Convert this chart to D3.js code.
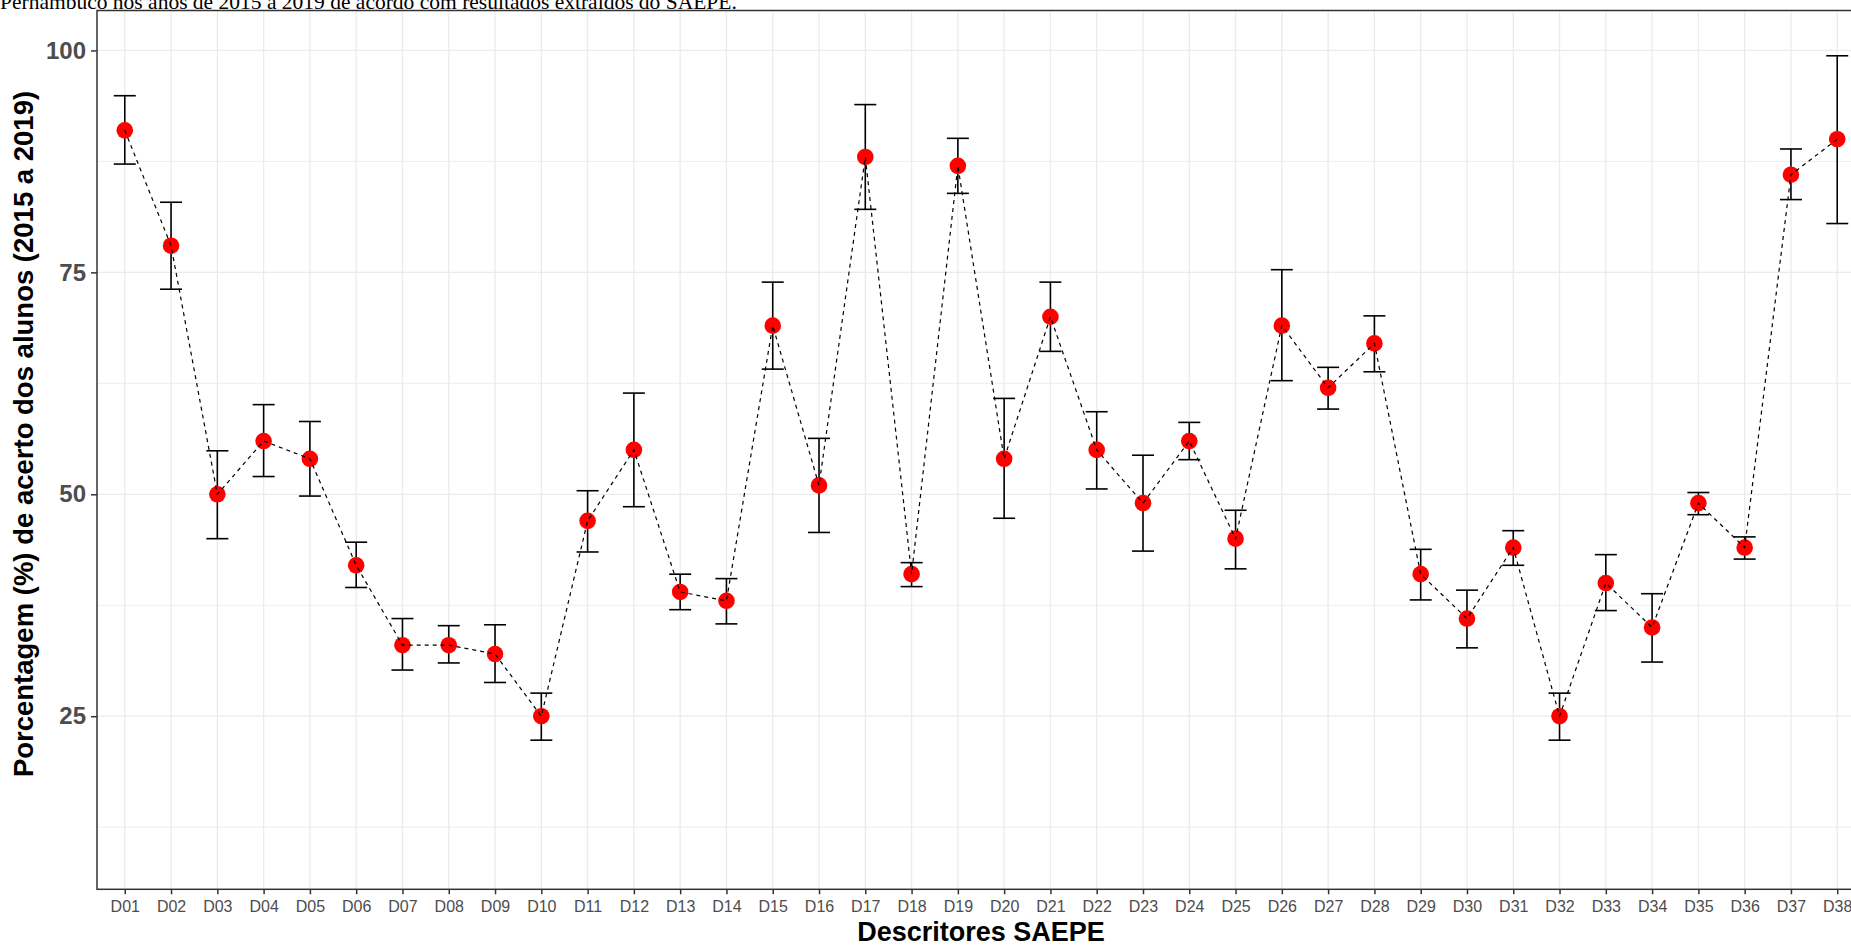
<!DOCTYPE html>
<html>
<head>
<meta charset="utf-8">
<script src="https://cdn.jsdelivr.net/npm/d3@7"></script>
<style>
  body { margin: 0; background: #fff; overflow: hidden; }
  #chart svg { display: block; }
</style>
</head>
<body>
<div id="chart"></div>
<script>

// Data
const categories = ["D01","D02","D03","D04","D05","D06","D07","D08","D09","D10",
  "D11","D12","D13","D14","D15","D16","D17","D18","D19","D20",
  "D21","D22","D23","D24","D25","D26","D27","D28","D29","D30",
  "D31","D32","D33","D34","D35","D36","D37","D38"];

const means = [91, 78, 50, 56, 54, 42, 33, 33, 32, 25,
  47, 55, 39, 38, 69, 51, 88, 41, 87, 54,
  70, 55, 49, 56, 45, 69, 62, 67, 41, 36,
  44, 25, 40, 35, 49, 44, 86, 90];

const upper = [94.9, 82.9, 54.9, 60.1, 58.2, 44.6, 36.0, 35.2, 35.3, 27.6,
  50.4, 61.4, 41.0, 40.5, 73.9, 56.3, 93.9, 42.3, 90.1, 60.8,
  73.9, 59.3, 54.4, 58.1, 48.2, 75.3, 64.3, 70.1, 43.8, 39.2,
  45.9, 27.6, 43.2, 38.8, 50.2, 45.2, 88.9, 99.4];

const lower = [87.2, 73.1, 45.0, 52.0, 49.8, 39.5, 30.2, 31.0, 28.8, 22.3,
  43.5, 48.6, 37.0, 35.4, 64.1, 45.7, 82.1, 39.6, 83.9, 47.3,
  66.1, 50.6, 43.6, 53.9, 41.6, 62.8, 59.6, 63.8, 38.1, 32.7,
  42.0, 22.3, 36.9, 31.1, 47.7, 42.7, 83.2, 80.5];

const yTicks = [25, 50, 75, 100];
const yMinorTicks = [12.5, 37.5, 62.5, 87.5];

const captionText = "Pernambuco nos anos de 2015 a 2019 de acordo com resultados extraídos do SAEPE.";
const xTitle = "Descritores SAEPE";
const yTitle = "Porcentagem (%) de acerto dos alunos (2015 a 2019)";

// Dimensions (the panel runs past the right edge, as in the reference)
const W = 1851, H = 946;
const panel = {left: 97, top: 10.5, right: 1865, bottom: 889.3};

const svg = d3.select("#chart")
  .append("svg")
    .attr("width", W)
    .attr("height", H)
    .style("font-family", "Liberation Sans, Arial, sans-serif");

const xScale = d3.scalePoint()
  .domain(categories)
  .range([panel.left, panel.right])
  .padding(0.6);

const yScale = d3.scaleLinear()
  .domain([5.5, 104.5])
  .range([panel.bottom, panel.top]);

// grid lines
const grid = svg.append("g");
grid.selectAll(".minor")
  .data(yMinorTicks)
  .enter().append("line")
    .attr("x1", panel.left).attr("x2", panel.right)
    .attr("y1", d => yScale(d)).attr("y2", d => yScale(d))
    .attr("stroke", "#ebebeb").attr("stroke-width", 0.9);
grid.selectAll(".major")
  .data(yTicks)
  .enter().append("line")
    .attr("x1", panel.left).attr("x2", panel.right)
    .attr("y1", d => yScale(d)).attr("y2", d => yScale(d))
    .attr("stroke", "#ebebeb").attr("stroke-width", 1.3);
grid.selectAll(".vert")
  .data(categories)
  .enter().append("line")
    .attr("x1", d => xScale(d)).attr("x2", d => xScale(d))
    .attr("y1", panel.top).attr("y2", panel.bottom)
    .attr("stroke", "#ebebeb").attr("stroke-width", 1.3);

// error bars
const bars = svg.append("g")
  .attr("stroke", "#000")
  .attr("stroke-width", 1.6);
categories.forEach(function(c, i) {
  const x = xScale(c);
  bars.append("line")
    .attr("x1", x).attr("x2", x)
    .attr("y1", yScale(lower[i])).attr("y2", yScale(upper[i]));
  bars.append("line")
    .attr("x1", x - 11).attr("x2", x + 11)
    .attr("y1", yScale(upper[i])).attr("y2", yScale(upper[i]));
  bars.append("line")
    .attr("x1", x - 11).attr("x2", x + 11)
    .attr("y1", yScale(lower[i])).attr("y2", yScale(lower[i]));
});

// points
svg.append("g")
  .selectAll("circle")
  .data(means)
  .enter().append("circle")
    .attr("cx", (d, i) => xScale(categories[i]))
    .attr("cy", d => yScale(d))
    .attr("r", 8.3)
    .attr("fill", "#ff0000");

// dashed line through the means
svg.append("path")
  .datum(means)
  .attr("d", d3.line()
    .x((d, i) => xScale(categories[i]))
    .y(d => yScale(d)))
  .attr("fill", "none")
  .attr("stroke", "#000")
  .attr("stroke-width", 1.2)
  .attr("stroke-dasharray", "4,4");

// panel border
svg.append("rect")
  .attr("x", panel.left).attr("y", panel.top)
  .attr("width", panel.right - panel.left)
  .attr("height", panel.bottom - panel.top)
  .attr("fill", "none")
  .attr("stroke", "#333")
  .attr("stroke-width", 1.5);

// axes
const yAxis = svg.append("g")
  .attr("transform", `translate(${panel.left}, 0)`)
  .call(d3.axisLeft(yScale).tickValues(yTicks).tickSize(6).tickPadding(5));
yAxis.select(".domain").remove();
yAxis.selectAll(".tick line").attr("stroke", "#333").attr("stroke-width", 1.5);
yAxis.selectAll(".tick text")
  .attr("fill", "#4d4d4d")
  .style("font-size", "24px")
  .style("font-weight", "bold")
  .style("font-family", "Liberation Sans, Arial, sans-serif");

const xAxis = svg.append("g")
  .attr("transform", `translate(0, ${panel.bottom})`)
  .call(d3.axisBottom(xScale).tickSize(5).tickPadding(6));
xAxis.select(".domain").remove();
xAxis.selectAll(".tick line").attr("stroke", "#333").attr("stroke-width", 1.5);
xAxis.selectAll(".tick text")
  .attr("fill", "#4d4d4d")
  .style("font-size", "16px")
  .style("font-family", "Liberation Sans, Arial, sans-serif");

// titles
svg.append("text")
  .attr("x", (panel.left + panel.right) / 2)
  .attr("y", 941)
  .attr("text-anchor", "middle")
  .style("font-size", "27px")
  .style("font-weight", "bold")
  .text(xTitle);

svg.append("text")
  .attr("transform", `translate(33, 434) rotate(-90)`)
  .attr("text-anchor", "middle")
  .style("font-size", "27.5px")
  .style("font-weight", "bold")
  .text(yTitle);

// caption line from the document, cut at the top as in the reference
svg.append("text")
  .attr("x", 0)
  .attr("y", 8.5)
  .style("font-family", "Liberation Serif, Times New Roman, serif")
  .style("font-size", "21.5px")
  .text(captionText);

</script>
</body>
</html>
